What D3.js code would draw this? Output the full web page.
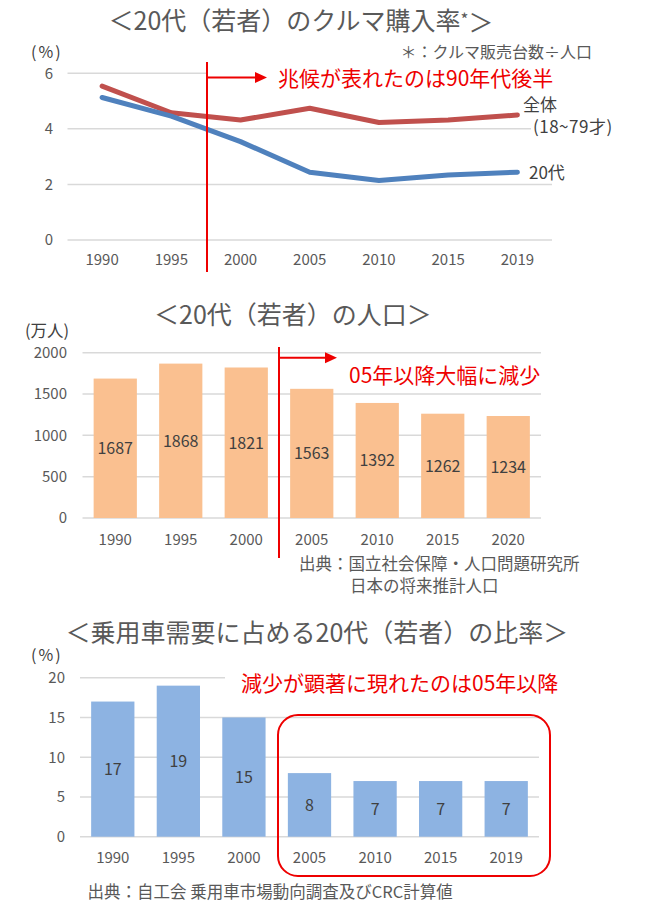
<!DOCTYPE html>
<html><head><meta charset="utf-8">
<script src="https://cdn.jsdelivr.net/npm/d3@7"></script>
<style>
html,body{margin:0;padding:0;background:#fff;}
svg text{font-family:"Noto Sans CJK JP","Noto Sans",sans-serif;}
</style></head>
<body>
<svg id="c" width="650" height="915"></svg>
<script>
// ---- data ----
const rateYears = ["1990","1995","2000","2005","2010","2015","2019"];
const rateOverall = [5.54, 4.58, 4.32, 4.74, 4.23, 4.32, 4.50];
const rateYouth = [5.13, 4.46, 3.54, 2.44, 2.14, 2.34, 2.44];
const rateTicks = [0, 2, 4, 6];

const popYears = ["1990","1995","2000","2005","2010","2015","2020"];
const population = [1687, 1868, 1821, 1563, 1392, 1262, 1234];
const popTicks = [0, 500, 1000, 1500, 2000];

const shareYears = ["1990","1995","2000","2005","2010","2015","2019"];
const share = [17, 19, 15, 8, 7, 7, 7];
const shareTicks = [0, 5, 10, 15, 20];

// ---- styles ----
const GRID = "#d9d9d9", AX = "#595959", LBL = "#404040", RED = "#ee0000";
const svg = d3.select("#c");

function txt(g, x, y, s, size, color, anchor) {
  return g.append("text").attr("x", x).attr("y", y).attr("dy", "0.36em")
    .attr("font-size", size).attr("fill", color).attr("text-anchor", anchor || "start").text(s);
}
function grid(g, x, y, ticks, labelX) {
  const [x0, x1] = x.range();
  g.selectAll(null).data(ticks).join("line")
    .attr("x1", x0).attr("x2", x1).attr("y1", d => y(d)).attr("y2", d => y(d))
    .attr("stroke", GRID).attr("stroke-width", 1.5);
  g.selectAll(null).data(ticks).join("text")
    .attr("x", labelX).attr("y", d => y(d)).attr("dy", "0.36em")
    .attr("text-anchor", "end").attr("font-size", 15).attr("fill", AX).text(d => d);
}
function xlabels(g, x, cats, yy) {
  g.selectAll(null).data(cats).join("text")
    .attr("x", d => x(d) + x.bandwidth() / 2).attr("y", yy).attr("dy", "0.36em")
    .attr("text-anchor", "middle").attr("font-size", 15).attr("fill", AX).text(d => d);
}
function arrow(g, x0, x1, y) {
  g.append("line").attr("x1", x0).attr("x2", x1 - 10).attr("y1", y).attr("y2", y)
    .attr("stroke", RED).attr("stroke-width", 2);
  g.append("path").attr("d", `M${x1 - 12},${y - 5.5}L${x1},${y}L${x1 - 12},${y + 5.5}Z`).attr("fill", RED);
}

// ===== Chart 1: purchase rate lines =====
{
  const g = svg.append("g");
  const x = d3.scaleBand().domain(rateYears).range([67.5, 552]);
  const y = d3.scaleLinear().domain([0, 6]).range([240, 73.3]);
  const t = txt(g, 301, 21, "", 25, AX, "middle");
  t.append("tspan").text("＜20代（若者）のクルマ購入率");
  t.append("tspan").attr("font-size", 17).attr("dy", "-0.25em").text("*");
  t.append("tspan").attr("dy", "0.25em").text("＞");
  txt(g, 31, 52, "(%)", 16, LBL).attr("letter-spacing", 2);
  txt(g, 592, 52, "＊：クルマ販売台数÷人口", 16, AX, "end");
  grid(g, x, y, rateTicks, 53);
  xlabels(g, x, rateYears, 260);
  // white boxes covering gridlines behind annotations
  g.append("rect").attr("x", 208).attr("y", 64).attr("width", 350).attr("height", 26).attr("fill", "#fff");
  g.append("rect").attr("x", 531).attr("y", 117).attr("width", 95).attr("height", 20).attr("fill", "#fff");
  const line = d3.line().x((d, i) => x(rateYears[i]) + x.bandwidth() / 2).y(d => y(d));
  g.append("path").datum(rateOverall).attr("d", line).attr("fill", "none")
    .attr("stroke", "#c0504d").attr("stroke-width", 5).attr("stroke-linecap", "round").attr("stroke-linejoin", "round");
  g.append("path").datum(rateYouth).attr("d", line).attr("fill", "none")
    .attr("stroke", "#4f81bd").attr("stroke-width", 5).attr("stroke-linecap", "round").attr("stroke-linejoin", "round");
  txt(g, 523, 105, "全体", 17, LBL);
  txt(g, 533, 127, "(18~79才)", 17, LBL).attr("letter-spacing", 0.5);
  txt(g, 529, 173, "20代", 17, LBL);
  g.append("line").attr("x1", 207).attr("x2", 207).attr("y1", 62).attr("y2", 272)
    .attr("stroke", RED).attr("stroke-width", 2);
  arrow(g, 207, 267, 77.5);
  txt(g, 278, 78, "兆候が表れたのは90年代後半", 21, RED);
}

// ===== Chart 2: population bars =====
{
  const g = svg.append("g");
  const x = d3.scaleBand().domain(popYears).range([82.5, 541]).paddingInner(0.34).paddingOuter(0.17);
  const y = d3.scaleLinear().domain([0, 2000]).range([518, 352.7]);
  txt(g, 293, 315, "＜20代（若者）の人口＞", 25, AX, "middle");
  txt(g, 25, 331, "(万人)", 16.5, LBL);
  grid(g, x, y, popTicks, 67);
  g.selectAll(null).data(population).join("rect")
    .attr("x", (d, i) => x(popYears[i])).attr("width", x.bandwidth())
    .attr("y", d => y(d)).attr("height", d => y(0) - y(d)).attr("fill", "#fac090");
  g.selectAll(null).data(population).join("text")
    .attr("x", (d, i) => x(popYears[i]) + x.bandwidth() / 2).attr("y", d => (y(d) + y(0)) / 2)
    .attr("dy", "0.36em").attr("text-anchor", "middle").attr("font-size", 16).attr("fill", LBL).text(d => d);
  xlabels(g, x, popYears, 540);
  g.append("line").attr("x1", 279).attr("x2", 279).attr("y1", 347).attr("y2", 558)
    .attr("stroke", RED).attr("stroke-width", 2);
  arrow(g, 279, 337, 357.7);
  txt(g, 349, 375, "05年以降大幅に減少", 21, RED);
  txt(g, 299, 564, "出典：国立社会保障・人口問題研究所", 16.5, AX);
  txt(g, 350, 586, "日本の将来推計人口", 16.5, AX);
}

// ===== Chart 3: share bars =====
{
  const g = svg.append("g");
  const x = d3.scaleBand().domain(shareYears).range([80, 539]).paddingInner(0.34).paddingOuter(0.17);
  const y = d3.scaleLinear().domain([0, 20]).range([836.7, 677.7]);
  txt(g, 317, 633, "＜乗用車需要に占める20代（若者）の比率＞", 25, AX, "middle");
  txt(g, 31, 655, "(%)", 16, LBL).attr("letter-spacing", 2);
  grid(g, x, y, shareTicks, 65);
  g.append("rect").attr("x", 225).attr("y", 668).attr("width", 330).attr("height", 30).attr("fill", "#fff");
  g.selectAll(null).data(share).join("rect")
    .attr("x", (d, i) => x(shareYears[i])).attr("width", x.bandwidth())
    .attr("y", d => y(d)).attr("height", d => y(0) - y(d)).attr("fill", "#8db3e2");
  g.selectAll(null).data(share).join("text")
    .attr("x", (d, i) => x(shareYears[i]) + x.bandwidth() / 2).attr("y", d => (y(d) + y(0)) / 2)
    .attr("dy", "0.36em").attr("text-anchor", "middle").attr("font-size", 16).attr("fill", LBL).text(d => d);
  xlabels(g, x, shareYears, 858);
  txt(g, 241, 683, "減少が顕著に現れたのは05年以降", 21, RED);
  g.append("rect").attr("x", 278).attr("y", 715).attr("width", 272).attr("height", 161)
    .attr("rx", 20).attr("ry", 20).attr("fill", "none").attr("stroke", RED).attr("stroke-width", 2);
  txt(g, 87.5, 892, "出典：自工会 乗用車市場動向調査及びCRC計算値", 16.5, AX);
}
</script>
</body></html>
